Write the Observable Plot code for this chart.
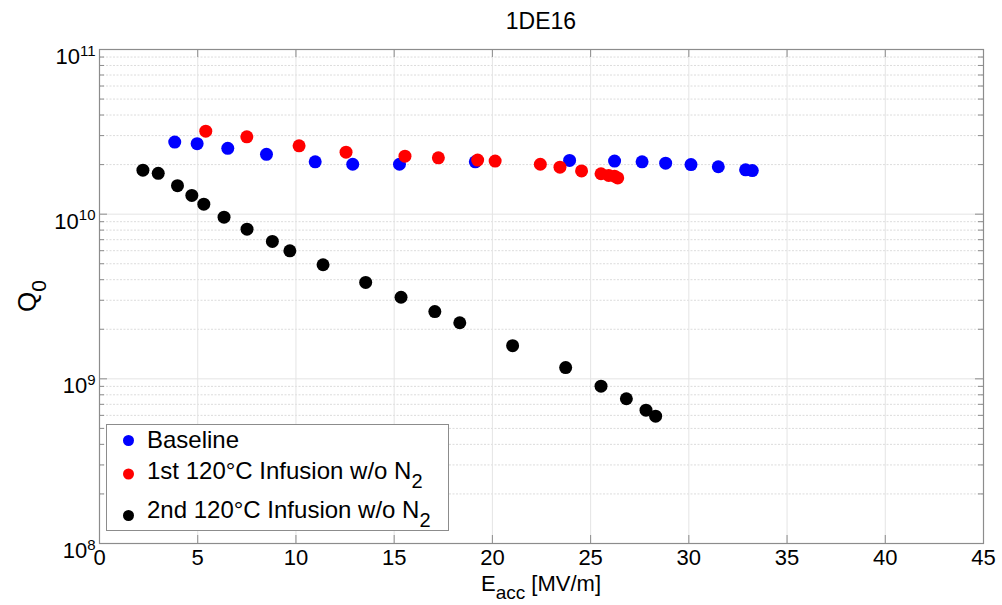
<!DOCTYPE html>
<html><head><meta charset="utf-8">
<script src="https://cdn.jsdelivr.net/npm/d3@7"></script>
<script src="https://cdn.jsdelivr.net/npm/@observablehq/plot@0.6"></script>
<style>
body{margin:0;background:#fff;}
#chart{position:relative;width:1002px;height:605px;font-family:"Liberation Sans",Arial,sans-serif;}
</style></head>
<body><div id="chart"></div>
<script>
// ---- data ----
const baselineE = [3.83, 4.97, 6.53, 8.50, 10.98, 12.89, 15.27, 19.13, 23.93, 26.22, 27.62, 28.82, 30.11, 31.50, 32.89, 33.23];
const baselineQ = [2.74e10, 2.68e10, 2.51e10, 2.31e10, 2.08e10, 2.01e10, 2.01e10, 2.08e10, 2.12e10, 2.10e10, 2.08e10, 2.04e10, 2.00e10, 1.94e10, 1.86e10, 1.84e10];
const inf1E = [5.41, 7.50, 10.16, 12.55, 15.55, 17.25, 19.25, 20.14, 22.44, 23.44, 24.54, 25.53, 25.92, 26.22, 26.38];
const inf1Q = [3.19e10, 2.95e10, 2.60e10, 2.38e10, 2.25e10, 2.20e10, 2.13e10, 2.10e10, 2.01e10, 1.93e10, 1.83e10, 1.76e10, 1.72e10, 1.70e10, 1.66e10];
const inf2E = [2.21, 2.99, 3.97, 4.70, 5.31, 6.34, 7.51, 8.80, 9.69, 11.38, 13.55, 15.35, 17.07, 18.34, 21.03, 23.73, 25.53, 26.82, 27.82, 28.31];
const inf2Q = [1.85e10, 1.77e10, 1.49e10, 1.30e10, 1.15e10, 9.59e9, 8.11e9, 6.83e9, 5.99e9, 4.93e9, 3.85e9, 3.13e9, 2.56e9, 2.19e9, 1.59e9, 1.17e9, 9.03e8, 7.57e8, 6.45e8, 5.93e8];
const seriesNames = ["Baseline", "1st 120°C Infusion w/o N", "2nd 120°C Infusion w/o N"];
const seriesColors = ["#0000ff", "#ff0000", "#000000"];
const xTicks = [0, 5, 10, 15, 20, 25, 30, 35, 40, 45];
const yMajor = [1e8, 1e9, 1e10, 1e11];
const yExp = ["8", "9", "10", "11"];
const yMinor = [];
for (const m of [1e8, 1e9, 1e10]) for (let k = 2; k <= 9; k++) yMinor.push(m * k);

const toRows = (E, Q, s) => E.map((e, i) => ({E: e, Q: Q[i], s}));
const data = [
  ...toRows(baselineE, baselineQ, 0),
  ...toRows(inf1E, inf1Q, 1),
  ...toRows(inf2E, inf2Q, 2)
];

const W = 1002, H = 605, mL = 99, mR = 19, mT = 49, mB = 62;
const plotH = H - mT - mB, plotW = W - mL - mR;
const frameColor = "#8c8c8c";

const chart = Plot.plot({
  width: W, height: H,
  marginLeft: mL, marginRight: mR, marginTop: mT, marginBottom: mB,
  style: {fontFamily: "'Liberation Sans', Arial, sans-serif", background: "#fff"},
  x: {domain: [0, 45], ticks: xTicks},
  y: {type: "log", domain: [1e8, 1e11]},
  marks: [
    Plot.ruleY(yMinor, {stroke: "#dcdcdc", strokeDasharray: "2,1.5", strokeWidth: 1}),
    Plot.ruleY(yMajor, {stroke: "#e4e4e4", strokeWidth: 1}),
    Plot.ruleX(xTicks, {stroke: "#e4e4e4", strokeWidth: 1}),
    // inward tick marks
    Plot.ruleX(xTicks, {stroke: frameColor, insetTop: plotH - 8}),
    Plot.ruleX(xTicks, {stroke: frameColor, insetBottom: plotH - 8}),
    Plot.ruleY(yMajor, {stroke: frameColor, insetRight: plotW - 8}),
    Plot.ruleY(yMajor, {stroke: frameColor, insetLeft: plotW - 8}),
    Plot.ruleY(yMinor, {stroke: frameColor, insetRight: plotW - 5}),
    Plot.ruleY(yMinor, {stroke: frameColor, insetLeft: plotW - 5}),
    Plot.frame({stroke: frameColor, strokeWidth: 1.2}),
    Plot.axisX(xTicks, {tickSize: 0, tickPadding: 6, fontSize: 22, fill: "#000", label: null}),
    Plot.axisY(yMajor, {tickSize: 0, tickPadding: 4, fontSize: 22, fill: "#000", label: null,
      tickFormat: (d) => "10^" + yExp[yMajor.indexOf(d)]}),
    Plot.dot(data, {x: "E", y: "Q", r: 6.5, fill: (d) => seriesColors[d.s], stroke: null})
  ]
});
document.getElementById("chart").appendChild(chart);

const svg = d3.select(chart);
const font = "'Liberation Sans', Arial, sans-serif";
// enforce tick label sizes
svg.selectAll("g[aria-label='x-axis tick label'], g[aria-label='y-axis tick label']")
  .attr("font-size", 22).style("font-size", "22px");
svg.selectAll("g[aria-label='x-axis tick label'] text").attr("font-size", 22);
// superscripts on y tick labels
svg.selectAll("text").each(function () {
  const t = d3.select(this);
  const txt = t.text();
  if (/^10\^\d+$/.test(txt)) {
    const e = txt.split("^")[1];
    t.text(null);
    t.attr("font-size", 22);
    t.append("tspan").text("10");
    t.append("tspan").attr("dy", "-0.55em").attr("font-size", "15px").text(e);
    t.attr("dy", "0.34em");
  }
});

// title
svg.append("text").attr("x", mL + plotW / 2).attr("y", 29).attr("text-anchor", "middle")
  .attr("font-size", 23).attr("font-family", font).text("1DE16");
// x label
const xl = svg.append("text").attr("x", mL + plotW / 2).attr("y", 591).attr("text-anchor", "middle")
  .attr("font-size", 22).attr("font-family", font);
xl.append("tspan").text("E");
xl.append("tspan").attr("dy", 8).attr("font-size", 19).text("acc");
xl.append("tspan").attr("dy", -8).text(" [MV/m]");
// y label
const yl = svg.append("text").attr("transform", `translate(36,${mT + plotH / 2}) rotate(-90)`)
  .attr("text-anchor", "middle").attr("font-size", 26).attr("font-family", font);
yl.append("tspan").text("Q");
yl.append("tspan").attr("dy", 10).attr("font-size", 21).text("0");

// legend
const lg = svg.append("g").attr("text-anchor", "start");
lg.append("rect").attr("x", 106.5).attr("y", 424.5).attr("width", 342).attr("height", 106)
  .attr("fill", "#fff").attr("stroke", "#8c8c8c").attr("stroke-width", 1);
const rowsY = [448, 479, 518];
const dotsY = [440.5, 474, 515.5];
seriesNames.forEach((n, i) => {
  lg.append("circle").attr("cx", 128.5).attr("cy", dotsY[i]).attr("r", 5.5).attr("fill", seriesColors[i]);
  const t = lg.append("text").attr("x", 147).attr("y", rowsY[i]).attr("text-anchor", "start")
    .attr("font-size", 24).attr("font-family", font).text(n);
  if (i > 0) t.append("tspan").attr("dy", 9).attr("font-size", 20).text("2");
});
</script></body></html>
